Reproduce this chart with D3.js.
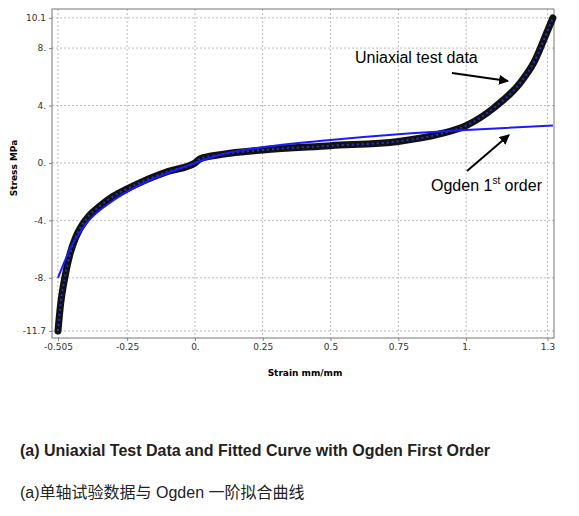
<!DOCTYPE html>
<html><head><meta charset="utf-8">
<script src="https://cdn.jsdelivr.net/npm/d3@7"></script>
<style>body{margin:0;background:#fff}</style></head>
<body><svg id="c" width="579" height="516"></svg>
<script>
const xTicks=[-0.505,-0.25,0,0.25,0.5,0.75,1,1.3];
const xTickLabels=["-0.505","-0.25","0.","0.25","0.5","0.75","1.","1.3"];
const yTicks=[10.1,8,4,0,-4,-8,-11.7];
const yTickLabels=["10.1","8.","4.","0.","-4.","-8.","-11.7"];
const testStrain=[-0.505,-0.495,-0.48,-0.46,-0.44,-0.4,-0.35,-0.3,-0.25,-0.2,-0.1,0,0.02,0.1,0.25,0.5,0.75,0.9,1.0,1.1,1.2,1.25,1.3,1.32];
const testStress=[-11.7,-9.8,-8.0,-6.3,-5.2,-3.9,-3.0,-2.3,-1.8,-1.35,-0.6,0,0.3,0.6,0.9,1.2,1.5,2.0,2.6,3.8,5.6,7.0,9.2,10.1];
const ogStrain=[-0.505,-0.45,-0.4,-0.3,-0.2,-0.1,0,0.1,0.25,0.5,0.75,1.0,1.32];
const ogStress=[-8,-5.6,-4.2,-2.6,-1.5,-0.7,0,0.6,1.1,1.6,2.0,2.3,2.6];

const svg=d3.select("#c");
const L=52,R=554,T=9,B=338;
const x=d3.scaleLinear().domain([-0.527,1.324]).range([L,R]);
const y=d3.scaleLinear().domain([-12.19,10.72]).range([B,T]);
const g=svg.append("g");
xTicks.forEach(v=>g.append("line").attr("x1",x(v)).attr("x2",x(v)).attr("y1",T).attr("y2",B).attr("stroke","#bbb").attr("stroke-dasharray","2,2"));
yTicks.forEach(v=>g.append("line").attr("y1",y(v)).attr("y2",y(v)).attr("x1",L).attr("x2",R).attr("stroke","#bbb").attr("stroke-dasharray","2,2"));
svg.append("g").attr("transform",`translate(0,${B})`).call(d3.axisBottom(x).tickValues(xTicks).tickFormat((d,i)=>xTickLabels[i]).tickSize(3))
 .call(a=>{a.select(".domain").remove();a.selectAll("text").attr("font-family","DejaVu Sans").attr("font-size",9).attr("fill","#333");a.selectAll("line").attr("stroke","#888");});
svg.append("g").attr("transform",`translate(${L},0)`).call(d3.axisLeft(y).tickValues(yTicks).tickFormat((d,i)=>yTickLabels[i]).tickSize(3))
 .call(a=>{a.select(".domain").remove();a.selectAll("text").attr("font-family","DejaVu Sans").attr("font-size",9).attr("fill","#333");a.selectAll("line").attr("stroke","#888");});
svg.append("rect").attr("x",L).attr("y",T).attr("width",R-L).attr("height",B-T).attr("fill","none").attr("stroke","#777");
const line=d3.line().curve(d3.curveMonotoneX);
const tp=testStrain.map((s,i)=>[x(s),y(testStress[i])]);
const op=ogStrain.map((s,i)=>[x(s),y(ogStress[i])]);
svg.append("path").attr("d",line(tp)).attr("fill","none").attr("stroke","#111").attr("stroke-width",7).attr("stroke-linecap","round");
svg.append("path").attr("d",line(tp)).attr("fill","none").attr("stroke","#2233cc").attr("stroke-width",2).attr("stroke-dasharray","2,3");
svg.append("path").attr("d",line(op)).attr("fill","none").attr("stroke","#1a1aff").attr("stroke-width",2);
svg.append("text").attr("x",305).attr("y",376).attr("text-anchor","middle").attr("font-family","DejaVu Sans").attr("font-weight","bold").attr("font-size",9).text("Strain mm/mm");
svg.append("text").attr("transform","translate(17,168) rotate(-90)").attr("text-anchor","middle").attr("font-family","DejaVu Sans").attr("font-weight","bold").attr("font-size",9).text("Stress MPa");
svg.append("defs").append("marker").attr("id","ar").attr("viewBox","0 0 10 10").attr("refX",9).attr("refY",5).attr("markerWidth",5).attr("markerHeight",5).attr("orient","auto").append("path").attr("d","M0,0L10,5L0,10z").attr("fill","#000");
svg.append("text").attr("x",355).attr("y",63).attr("font-family","Liberation Sans").attr("font-size",16).text("Uniaxial test data");
svg.append("line").attr("x1",452).attr("y1",73).attr("x2",508).attr("y2",81).attr("stroke","#000").attr("stroke-width",2).attr("marker-end","url(#ar)");
const t2=svg.append("text").attr("x",431).attr("y",191).attr("font-family","Liberation Sans").attr("font-size",16);
t2.append("tspan").text("Ogden 1");t2.append("tspan").attr("font-size",10).attr("dy",-7).text("st");t2.append("tspan").attr("dy",7).text(" order");
svg.append("line").attr("x1",467).attr("y1",171).attr("x2",509).attr("y2",135).attr("stroke","#000").attr("stroke-width",2).attr("marker-end","url(#ar)");
svg.append("text").attr("x",20).attr("y",456).attr("font-family","Liberation Sans").attr("font-weight","bold").attr("font-size",16).attr("fill","#222").text("(a) Uniaxial Test Data and Fitted Curve with Ogden First Order");
svg.append("text").attr("x",20).attr("y",498).attr("font-family","Liberation Sans, Noto Sans CJK SC").attr("font-size",16).attr("fill","#222").text("(a)单轴试验数据与 Ogden 一阶拟合曲线");
</script></body></html>
